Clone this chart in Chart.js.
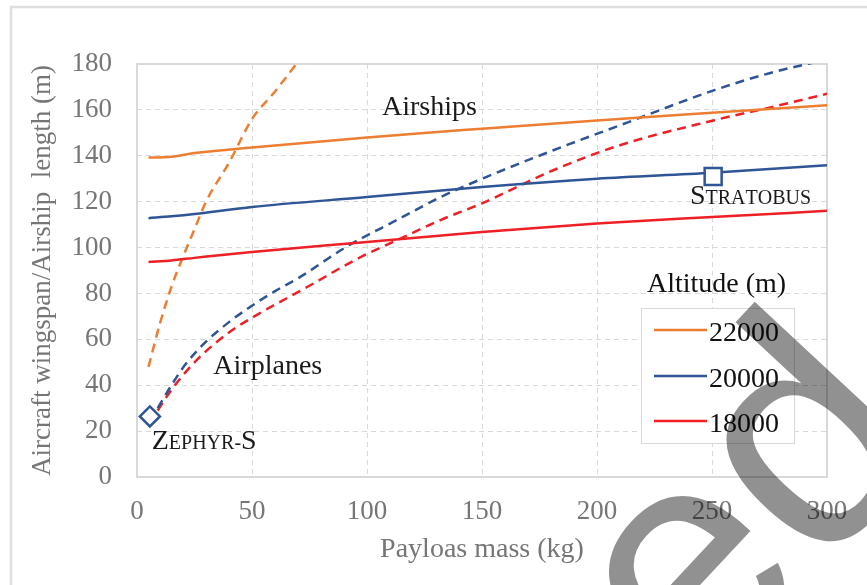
<!DOCTYPE html>
<html>
<head>
<meta charset="utf-8">
<script src="https://cdn.jsdelivr.net/npm/chart.js@4.4.1/dist/chart.umd.min.js"></script>
<style>
  html, body { margin: 0; padding: 0; background: #fff; }
  #wrap { width: 867px; height: 585px; }
</style>
</head>
<body>
<div id="wrap"><canvas id="chart" width="867" height="585"></canvas></div>
<script>
// valori
const altitudes = ['22000', '20000', '18000'];
const altColors = ['#ED7D31', '#2F5597', '#EE2026'];

// dirigibili (linee continue)
const shipMass  = [5, 15, 25, 50, 100, 150, 200, 250, 300];
const ship22000 = [139.2, 139.6, 141.2, 143.6, 148, 151.8, 155.4, 158.7, 162];
const ship20000 = [112.8, 113.6, 114.6, 117.7, 122, 126.4, 130, 132.6, 135.9];
const ship18000 = [93.7, 94.4, 95.5, 98.1, 102.4, 106.8, 110.5, 113.3, 116];

// aerei (linee tratteggiate)
const plane22000Mass = [5, 10, 15, 20, 25, 30, 40, 50, 60, 70];
const plane22000     = [48, 67, 83, 96, 108, 120, 137, 156, 168, 181];
const plane20000Mass = [9, 15, 21, 30, 40, 49, 60, 71, 91, 113, 132, 152, 181, 210, 251, 275, 300];
const plane20000     = [30, 40, 49, 59, 67.5, 74, 81, 87.2, 100.3, 112, 122, 130.8, 142.4, 153.3, 168.6, 176, 182];
const plane18000Mass = [9, 15, 25, 40, 51, 74, 96, 113, 132, 150, 181, 210, 251, 275, 300];
const plane18000     = [29, 38, 50, 63, 70, 82.8, 95.2, 103.2, 112, 119.3, 133.7, 144.6, 155.5, 161, 167];

// riferimenti
const zephyr    = { x: 5.6, y: 26.4 };
const stratobus = { x: 250.5, y: 131 };

const xTicks = [0, 50, 100, 150, 200, 250, 300];
const yTicks = [0, 20, 40, 60, 80, 100, 120, 140, 160, 180];

const SERIF = "'Liberation Serif', 'Times New Roman', serif";
const GRAY = '#767676';
const GRID = '#d9d9d9';

function pts(xs, ys) { return xs.map((x, i) => ({ x: x, y: ys[i] })); }

function lineSet(label, xs, ys, color, dashed) {
  return {
    label: label,
    data: pts(xs, ys),
    borderColor: color,
    borderWidth: 2.5,
    borderDash: dashed ? [9, 6] : [],
    pointRadius: 0,
    fill: false,
    cubicInterpolationMode: 'monotone',
    clip: 0
  };
}

// testo in maiuscoletto: maiuscole grandi, minuscole in piccolo
function drawSmallCaps(ctx, text, x, y, big, small) {
  let cx = x;
  for (const ch of text) {
    const isUpper = ch !== ch.toLowerCase();
    ctx.font = (isUpper ? big : small) + 'px ' + SERIF;
    const c = ch.toUpperCase();
    ctx.fillText(c, cx, y);
    cx += ctx.measureText(c).width;
  }
}

const decor = {
  id: 'decor',
  beforeDraw(chart) {
    const ctx = chart.ctx;
    ctx.save();
    ctx.fillStyle = '#fff';
    ctx.fillRect(0, 0, chart.width, chart.height);
    ctx.strokeStyle = '#dedede';
    ctx.lineWidth = 2.5;
    ctx.beginPath();
    ctx.moveTo(11, chart.height);
    ctx.lineTo(11, 7);
    ctx.lineTo(chart.width, 7);
    ctx.stroke();
    ctx.restore();
  },
  beforeDatasetsDraw(chart) {
    const { ctx, chartArea: a } = chart;
    ctx.save();
    ctx.strokeStyle = GRID;
    ctx.lineWidth = 2;
    ctx.strokeRect(a.left, a.top, a.right - a.left, a.bottom - a.top);
    ctx.restore();
  },
  afterDatasetsDraw(chart) {
    const ctx = chart.ctx;
    const xs = chart.scales.x, ys = chart.scales.y;
    ctx.save();
    ctx.fillStyle = '#1a1a1a';
    ctx.textBaseline = 'alphabetic';
    ctx.textAlign = 'left';
    ctx.font = '28px ' + SERIF;
    ctx.fillText('Airships', xs.getPixelForValue(106.5), ys.getPixelForValue(157.7));
    ctx.fillText('Airplanes', xs.getPixelForValue(33.2), ys.getPixelForValue(44.7));
    drawSmallCaps(ctx, 'Zephyr-S', xs.getPixelForValue(6.4), ys.getPixelForValue(12.1), 28, 20);
    drawSmallCaps(ctx, 'Stratobus', xs.getPixelForValue(240.4), ys.getPixelForValue(119.2), 28, 20);

    // legenda
    const box = { left: 641, top: 308, right: 794, bottom: 443 };
    ctx.fillStyle = '#fff';
    ctx.fillRect(box.left, box.top, box.right - box.left, box.bottom - box.top);
    ctx.strokeStyle = GRID;
    ctx.lineWidth = 1;
    ctx.strokeRect(box.left + 0.5, box.top + 0.5, box.right - box.left, box.bottom - box.top);
    ctx.fillStyle = '#111';
    ctx.font = '28px ' + SERIF;
    ctx.fillText('Altitude (m)', 647, 292);
    const rowY = [330, 376, 421];
    altitudes.forEach((alt, i) => {
      ctx.strokeStyle = altColors[i];
      ctx.lineWidth = 2.5;
      ctx.beginPath();
      ctx.moveTo(654, rowY[i]);
      ctx.lineTo(707, rowY[i]);
      ctx.stroke();
      ctx.fillStyle = '#111';
      ctx.fillText(alt, 709, rowY[i] + 11);
    });
    ctx.restore();
  },
  afterDraw(chart) {
    // filigrana
    const ctx = chart.ctx;
    ctx.save();
    ctx.translate(939, 444);
    ctx.rotate(-47 * Math.PI / 180);
    ctx.font = "320px 'Liberation Sans', Arial, sans-serif";
    ctx.textAlign = 'right';
    ctx.textBaseline = 'alphabetic';
    ctx.fillStyle = 'rgba(0,0,0,0.43)';
    ctx.fillText('Accepted', 0, 0);
    ctx.restore();
  }
};

const datasets = [
  {
    label: 'Zephyr-S',
    data: [zephyr],
    showLine: false,
    pointStyle: 'rectRot',
    pointRadius: 10,
    pointBorderWidth: 2.5,
    pointBorderColor: altColors[1],
    pointBackgroundColor: '#fff'
  },
  {
    label: 'Stratobus',
    data: [stratobus],
    showLine: false,
    pointStyle: 'rect',
    pointRadius: 12,
    pointBorderWidth: 2.5,
    pointBorderColor: altColors[1],
    pointBackgroundColor: '#fff'
  },
  lineSet('Airship 22000', shipMass, ship22000, altColors[0], false),
  lineSet('Airship 20000', shipMass, ship20000, altColors[1], false),
  lineSet('Airship 18000', shipMass, ship18000, altColors[2], false),
  lineSet('Airplane 22000', plane22000Mass, plane22000, altColors[0], true),
  lineSet('Airplane 20000', plane20000Mass, plane20000, altColors[1], true),
  lineSet('Airplane 18000', plane18000Mass, plane18000, altColors[2], true)
];

new Chart(document.getElementById('chart'), {
  type: 'line',
  data: { datasets: datasets },
  plugins: [decor],
  options: {
    responsive: false,
    animation: false,
    devicePixelRatio: 1,
    layout: { padding: { top: 64, right: 40, left: 0, bottom: 0 } },
    plugins: { legend: { display: false }, tooltip: { enabled: false } },
    scales: {
      x: {
        type: 'linear', min: 0, max: 300,
        afterFit: (s) => { s.height = 108; },
        afterBuildTicks: (s) => { s.ticks = xTicks.map(v => ({ value: v })); },
        ticks: { padding: 19, color: GRAY, font: { family: SERIF, size: 27 } },
        grid: { color: GRID, lineWidth: 1, drawTicks: false },
        border: { display: false, dash: [5, 4] },
        title: {
          display: true, text: 'Payloas mass (kg)', color: GRAY,
          font: { family: SERIF, size: 28 }, padding: { top: 0, bottom: 19 }
        }
      },
      y: {
        type: 'linear', min: 0, max: 180,
        afterFit: (s) => { s.width = 137; },
        afterBuildTicks: (s) => { s.ticks = yTicks.map(v => ({ value: v })); },
        ticks: { padding: 25, color: GRAY, font: { family: SERIF, size: 27 } },
        grid: { color: GRID, lineWidth: 1, drawTicks: false },
        border: { display: false, dash: [5, 4] },
        title: {
          display: true, text: 'Aircraft wingspan/Airship  length (m)', color: GRAY,
          font: { family: SERIF, size: 27 }, padding: { top: 27, bottom: 0 }
        }
      }
    }
  }
});
</script>
</body>
</html>
